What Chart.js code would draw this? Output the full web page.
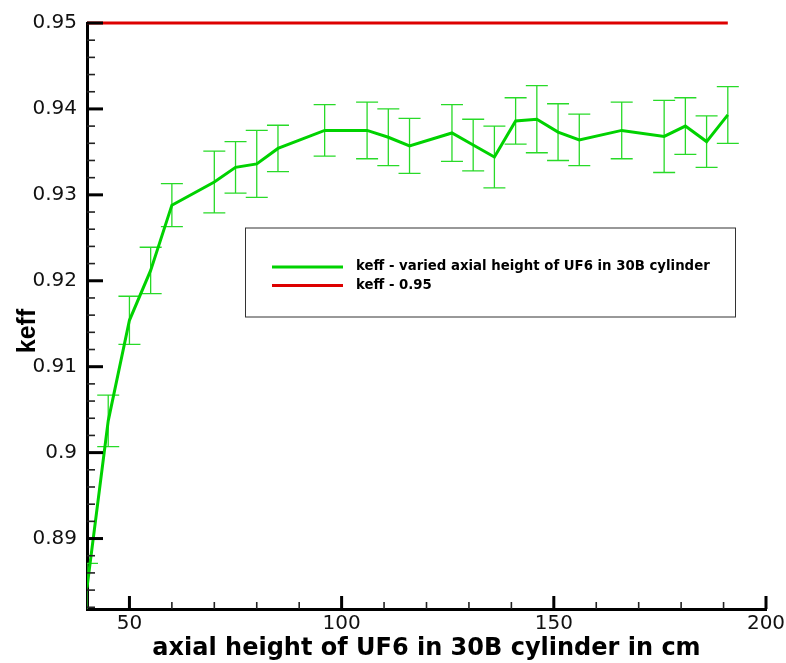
<!DOCTYPE html>
<html>
<head>
<meta charset="utf-8">
<script src="https://cdn.jsdelivr.net/npm/chart.js@4.4.1/dist/chart.umd.min.js"></script>
<style>
  html, body { margin: 0; padding: 0; background: #fff; }
  #wrap { width: 786px; height: 663px; position: relative; }
</style>
</head>
<body>
<div id="wrap"><canvas id="c" width="786" height="663"></canvas></div>
<script>
// ---- data ----
const axialHeights = [40, 45, 50, 55, 60, 70, 75, 80, 85, 96, 106, 111, 116, 126, 131, 136, 141, 146, 151, 156, 166, 176, 181, 186, 191];
const keffValues   = [0.8843, 0.9037, 0.9154, 0.9212, 0.9288, 0.9315, 0.9332, 0.9336, 0.9354, 0.9375, 0.9375, 0.9367, 0.9357, 0.9372, 0.9358, 0.9344, 0.9386, 0.9388, 0.9373, 0.9364, 0.9375, 0.9368, 0.9380, 0.9362, 0.9393];
const keffErrors   = [0.0028, 0.0030, 0.0028, 0.0027, 0.0025, 0.0036, 0.0030, 0.0039, 0.0027, 0.0030, 0.0033, 0.0033, 0.0032, 0.0033, 0.0030, 0.0036, 0.0027, 0.0039, 0.0033, 0.0030, 0.0033, 0.0042, 0.0033, 0.0030, 0.0033];
const limitHeights = [40, 191];
const limitValues  = [0.95, 0.95];
const xTickValues  = [50, 100, 150, 200];
const yTickValues  = [0.89, 0.90, 0.91, 0.92, 0.93, 0.94, 0.95];
const yTickLabels  = ['0.89', '0.9', '0.91', '0.92', '0.93', '0.94', '0.95'];
const seriesNames  = ['keff - varied axial height of UF6 in 30B cylinder', 'keff - 0.95'];
const xTitle = 'axial height of UF6 in 30B cylinder in cm';
const yTitle = 'keff';

const GREEN = '#00d200';
const RED = '#dd0000';
const WIDE = '"DejaVu Sans", Verdana, sans-serif';
const ARIAL = '"Liberation Sans", Arial, sans-serif';

const keffPoints = axialHeights.map((x, i) => ({ x: x, y: keffValues[i] }));
const limitPoints = limitHeights.map((x, i) => ({ x: x, y: limitValues[i] }));

// error bars drawn from the data through the scales
const errorBarPlugin = {
  id: 'errorBars',
  beforeDatasetsDraw(chart) {
    const { ctx, chartArea: a, scales: { x, y } } = chart;
    ctx.save();
    ctx.beginPath();
    ctx.rect(a.left, a.top, a.right - a.left, a.bottom - a.top);
    ctx.clip();
    ctx.strokeStyle = 'rgb(40,218,40)';
    ctx.lineWidth = 1.3;
    const cap = 11;
    axialHeights.forEach((h, i) => {
      const px = x.getPixelForValue(h);
      const top = y.getPixelForValue(keffValues[i] + keffErrors[i]);
      const bot = y.getPixelForValue(keffValues[i] - keffErrors[i]);
      ctx.beginPath();
      ctx.moveTo(px, top); ctx.lineTo(px, bot);
      ctx.moveTo(px - cap, top); ctx.lineTo(px + cap, top);
      ctx.moveTo(px - cap, bot); ctx.lineTo(px + cap, bot);
      ctx.stroke();
    });
    ctx.restore();
  }
};

// inward major/minor tick marks, y title and legend box
const decorPlugin = {
  id: 'decor',
  afterDatasetsDraw(chart) {
    const { ctx, chartArea: a, scales: { x, y } } = chart;
    ctx.save();
    // y ticks
    ctx.strokeStyle = '#000';
    for (let i = 0; i < yTickValues.length; i++) {
      const py = y.getPixelForValue(yTickValues[i]);
      ctx.lineWidth = 3;
      ctx.beginPath(); ctx.moveTo(a.left, py); ctx.lineTo(a.left + 16, py); ctx.stroke();
    }
    const yStep = (yTickValues[1] - yTickValues[0]) / 5;
    for (let v = yTickValues[0] - 4 * yStep; v < yTickValues[yTickValues.length - 1]; v += yStep) {
      const r = Math.round(v / yStep);
      if (r % 5 === 0) continue;
      if (v < y.min) continue;
      const py = y.getPixelForValue(v);
      ctx.lineWidth = 1.6;
      ctx.strokeStyle = '#222';
      ctx.beginPath(); ctx.moveTo(a.left, py); ctx.lineTo(a.left + 8, py); ctx.stroke();
    }
    // x ticks
    ctx.strokeStyle = '#000';
    for (let i = 0; i < xTickValues.length; i++) {
      const px = x.getPixelForValue(xTickValues[i]);
      ctx.lineWidth = 3;
      ctx.beginPath(); ctx.moveTo(px, a.bottom); ctx.lineTo(px, a.bottom - 13); ctx.stroke();
    }
    const xStep = (xTickValues[1] - xTickValues[0]) / 5;
    for (let v = x.min + xStep; v < x.max; v += xStep) {
      if (Math.round(v) % 50 === 0) continue;
      const px = x.getPixelForValue(v);
      ctx.lineWidth = 1.6;
      ctx.strokeStyle = '#222';
      ctx.beginPath(); ctx.moveTo(px, a.bottom); ctx.lineTo(px, a.bottom - 7); ctx.stroke();
    }
    // y axis title
    ctx.save();
    ctx.translate(28, 331);
    ctx.rotate(-Math.PI / 2);
    ctx.font = 'bold 25px ' + ARIAL;
    ctx.fillStyle = '#000';
    ctx.textAlign = 'center';
    ctx.textBaseline = 'middle';
    ctx.fillText(yTitle, 0, 0);
    ctx.restore();
    // legend
    const bx = 245, by = 227.5, bw = 490, bh = 89;
    ctx.lineWidth = 1;
    ctx.strokeStyle = '#333';
    ctx.strokeRect(bx + 0.5, by + 0.5, bw, bh);
    const colors = [GREEN, RED];
    const rowsY = [267, 285.5];
    ctx.font = 'bold 13.3px ' + WIDE;
    ctx.textBaseline = 'middle';
    ctx.fillStyle = '#000';
    seriesNames.forEach((name, i) => {
      ctx.strokeStyle = colors[i];
      ctx.lineWidth = 3;
      ctx.beginPath(); ctx.moveTo(272, rowsY[i]); ctx.lineTo(343, rowsY[i]); ctx.stroke();
      ctx.fillText(name, 356, rowsY[i]);
    });
    ctx.restore();
  }
};

new Chart(document.getElementById('c'), {
  type: 'line',
  data: {
    datasets: [
      {
        label: seriesNames[0],
        data: keffPoints,
        borderColor: GREEN,
        borderWidth: 3,
        pointRadius: 0,
        tension: 0,
        fill: false
      },
      {
        label: seriesNames[1],
        data: limitPoints,
        borderColor: RED,
        borderWidth: 3,
        pointRadius: 0,
        tension: 0,
        fill: false,
        clip: 5
      }
    ]
  },
  options: {
    responsive: false,
    animation: false,
    layout: { padding: { top: 23, right: 20, left: 0, bottom: 0 } },
    plugins: {
      legend: { display: false },
      tooltip: { enabled: false }
    },
    scales: {
      x: {
        type: 'linear',
        min: 40,
        max: 200,
        afterBuildTicks(scale) { scale.ticks = xTickValues.map(v => ({ value: v })); },
        afterFit(scale) { scale.height = 54; scale.paddingLeft = 0; scale.paddingRight = 0; },
        grid: { display: true, drawOnChartArea: false, drawTicks: false },
        border: { display: true, width: 3, color: '#000' },
        ticks: {
          padding: 3,
          color: '#111',
          font: { family: WIDE, size: 20 },
          maxRotation: 0,
          callback: v => String(v)
        },
        title: {
          display: true,
          text: xTitle,
          color: '#000',
          font: { family: WIDE, size: 24, weight: 'bold' },
          padding: { top: 0, bottom: 0 }
        }
      },
      y: {
        type: 'linear',
        min: 0.8818,
        max: 0.95,
        afterBuildTicks(scale) { scale.ticks = yTickValues.map(v => ({ value: v })); },
        afterFit(scale) { scale.width = 87; scale.paddingTop = 0; scale.paddingBottom = 0; },
        grid: { display: true, drawOnChartArea: false, drawTicks: false },
        border: { display: true, width: 3, color: '#000' },
        ticks: {
          padding: 10,
          color: '#111',
          font: { family: WIDE, size: 20 },
          callback: (v) => { const i = yTickValues.findIndex(t => Math.abs(t - v) < 1e-9); return i >= 0 ? yTickLabels[i] : ''; }
        },
        title: { display: false }
      }
    }
  },
  plugins: [errorBarPlugin, decorPlugin]
});
</script>
</body>
</html>
